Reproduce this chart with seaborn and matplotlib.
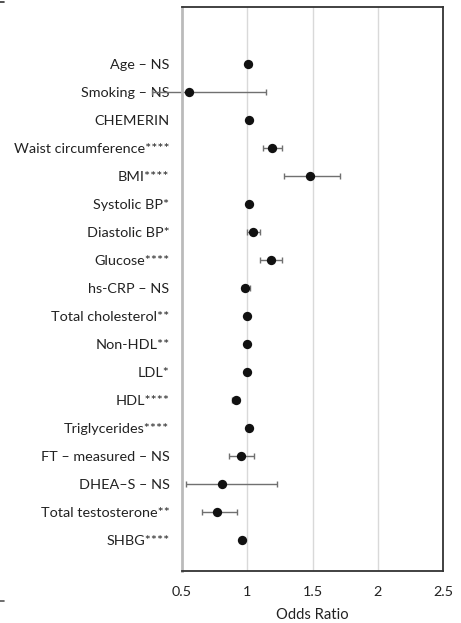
import numpy as np
import pandas as pd
import matplotlib
matplotlib.use("Agg")
import matplotlib.pyplot as plt
from matplotlib.lines import Line2D
import seaborn as sns

labels = ["Age – NS", "Smoking – NS", "CHEMERIN", "Waist circumference****", "BMI****",
          "Systolic BP*", "Diastolic BP*", "Glucose****", "hs-CRP – NS", "Total cholesterol**",
          "Non-HDL**", "LDL*", "HDL****", "Triglycerides****", "FT – measured – NS",
          "DHEA–S – NS", "Total testosterone**", "SHBG****"]
odds = [1.005, 0.55, 1.01, 1.19, 1.48, 1.01, 1.045, 1.185, 0.98, 1.0,
        1.0, 1.0, 0.91, 1.01, 0.95, 0.81, 0.77, 0.96]
lower = [0.99, 0.27, 1.0, 1.12, 1.28, 1.0, 1.0, 1.10, 0.96, 0.99,
         0.99, 0.99, 0.88, 1.0, 0.86, 0.53, 0.65, 0.95]
upper = [1.03, 1.14, 1.02, 1.27, 1.71, 1.02, 1.095, 1.27, 1.02, 1.01,
         1.01, 1.01, 0.94, 1.02, 1.05, 1.23, 0.92, 0.97]
xticks = [0.5, 1, 1.5, 2, 2.5]
xticklabels = ["0.5", "1", "1.5", "2", "2.5"]

sns.set_style("white")
plt.rcParams['font.family'] = ['Lato', 'DejaVu Sans']

df = pd.DataFrame({"label": labels, "odds": odds, "lower": lower, "upper": upper})
df["pos"] = np.arange(len(df))

fig = plt.figure(figsize=(4.61, 6.23), dpi=100)
ax = fig.add_axes([182/461, 1-571/623, (443-182)/461, (571-7)/623])

for x in [1, 1.5, 2]:
    ax.axvline(x, color="#d9d9d9", lw=1.0, zorder=0)

err = np.vstack([df["odds"] - df["lower"], df["upper"] - df["odds"]])
ax.errorbar(df["odds"], df["pos"], xerr=err, fmt="none", ecolor="#707070",
            elinewidth=1.0, capsize=2.5, capthick=1.0, clip_on=False, zorder=2)
sns.scatterplot(data=df, x="odds", y="pos", color="#111111", s=45,
                edgecolor="#111111", linewidth=0, ax=ax, zorder=3, clip_on=False)

ax.set_xlim(0.5, 2.5)
ax.set_ylim(18.1, -2.05)
ax.set_xticks(xticks)
ax.set_xticklabels(xticklabels)
ax.set_yticks(df["pos"])
ax.set_yticklabels(df["label"])
ax.tick_params(axis="y", length=0, labelsize=10.4, colors="#222222", pad=9)
ax.tick_params(axis="x", length=0, labelsize=10.4, colors="#222222", pad=11)
ax.set_xlabel("Odds Ratio", fontsize=10.6, color="#222222", labelpad=7)
ax.set_ylabel("")

for s in ["top", "right", "bottom"]:
    ax.spines[s].set_color("#333333")
    ax.spines[s].set_linewidth(1.3)
ax.spines["left"].set_color("#bbbbbb")
ax.spines["left"].set_linewidth(2.0)

fig.add_artist(Line2D([0, 4/461], [1-2/623, 1-2/623], color="#333333", lw=1.2))
fig.add_artist(Line2D([0, 4/461], [1-601/623, 1-601/623], color="#555555", lw=1.2))

fig.savefig("out.png", dpi=100)
